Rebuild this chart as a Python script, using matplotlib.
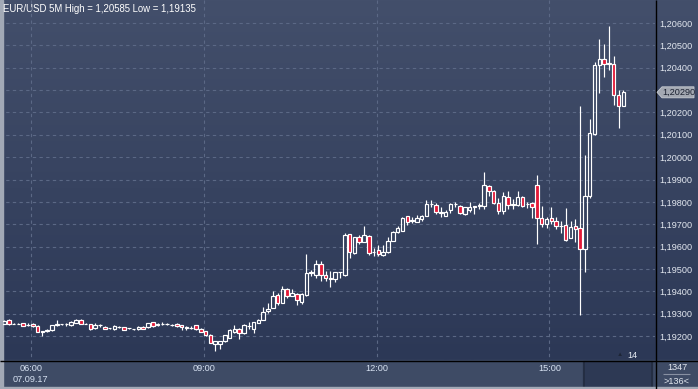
import matplotlib

matplotlib.use("Agg")
import matplotlib.pyplot as plt
import numpy as np
from matplotlib.colors import LinearSegmentedColormap
from matplotlib.patches import Polygon, Rectangle
from matplotlib.transforms import blended_transform_factory

plt.rcParams["font.family"] = ["Liberation Sans", "DejaVu Sans"]

# EUR/USD 5 minute candles, 07.09.17 (about 05:35 - 16:20)
opens = [
    1.19255, 1.19271, 1.19255, 1.19256, 1.19258, 1.19249, 1.19256, 1.19246, 1.19222, 1.19222,
    1.19225, 1.19248, 1.19252, 1.19252, 1.19249, 1.19259, 1.19272, 1.19255, 1.19254, 1.19235,
    1.19249, 1.19242, 1.19235, 1.19232, 1.19241, 1.19240, 1.19235, 1.19231, 1.19230, 1.19242,
    1.19240, 1.19263, 1.19250, 1.19254, 1.19254, 1.19251, 1.19254, 1.19249, 1.19241, 1.19237,
    1.19248, 1.19232, 1.19222, 1.19205, 1.19163, 1.19165, 1.19180, 1.19193, 1.19218, 1.19233,
    1.19212, 1.19244, 1.19233, 1.19260, 1.19272, 1.19313, 1.19326, 1.19383, 1.19349, 1.19411,
    1.19381, 1.19389, 1.19352, 1.19383, 1.19484, 1.19471, 1.19522, 1.19473, 1.19459, 1.19457,
    1.19485, 1.19474, 1.19655, 1.19571, 1.19642, 1.19622, 1.19648, 1.19574, 1.19584, 1.19562,
    1.19575, 1.19627, 1.19664, 1.19671, 1.19735, 1.19716, 1.19711, 1.19723, 1.19738, 1.19789,
    1.19787, 1.19751, 1.19738, 1.19762, 1.19790, 1.19780, 1.19746, 1.19762, 1.19781, 1.19780,
    1.19782, 1.19871, 1.19849, 1.19794, 1.19761, 1.19823, 1.19788, 1.19786, 1.19820, 1.19790,
    1.19793, 1.19875, 1.19728, 1.19703, 1.19727, 1.19713, 1.19690, 1.19695, 1.19640, 1.19691,
    1.19682, 1.19588, 1.19828, 1.20103, 1.20411, 1.20441, 1.20418, 1.20418, 1.20280, 1.20231,
]
highs = [
    1.19272, 1.19276, 1.19258, 1.19257, 1.19260, 1.19258, 1.19258, 1.19248, 1.19224, 1.19232,
    1.19251, 1.19271, 1.19255, 1.19260, 1.19266, 1.19274, 1.19274, 1.19257, 1.19256, 1.19258,
    1.19256, 1.19245, 1.19238, 1.19248, 1.19243, 1.19242, 1.19238, 1.19233, 1.19243, 1.19245,
    1.19260, 1.19265, 1.19260, 1.19263, 1.19257, 1.19256, 1.19258, 1.19251, 1.19244, 1.19246,
    1.19250, 1.19234, 1.19224, 1.19207, 1.19180, 1.19180, 1.19206, 1.19230, 1.19248, 1.19236,
    1.19252, 1.19263, 1.19265, 1.19275, 1.19331, 1.19349, 1.19403, 1.19393, 1.19426, 1.19413,
    1.19411, 1.19391, 1.19392, 1.19568, 1.19497, 1.19541, 1.19534, 1.19492, 1.19492, 1.19488,
    1.19488, 1.19659, 1.19658, 1.19645, 1.19652, 1.19692, 1.19650, 1.19593, 1.19605, 1.19606,
    1.19642, 1.19670, 1.19693, 1.19733, 1.19738, 1.19733, 1.19741, 1.19742, 1.19810, 1.19810,
    1.19796, 1.19776, 1.19763, 1.19797, 1.19801, 1.19786, 1.19779, 1.19800, 1.19783, 1.19793,
    1.19932, 1.19874, 1.19852, 1.19816, 1.19843, 1.19847, 1.19811, 1.19847, 1.19826, 1.19801,
    1.19801, 1.19920, 1.19782, 1.19734, 1.19779, 1.19731, 1.19713, 1.19771, 1.19713, 1.19725,
    1.20228, 1.20009, 1.20170, 1.20426, 1.20530, 1.20505, 1.20585, 1.20451, 1.20302, 1.20302,
]
lows = [
    1.19253, 1.19250, 1.19252, 1.19252, 1.19243, 1.19244, 1.19240, 1.19218, 1.19200, 1.19218,
    1.19223, 1.19246, 1.19250, 1.19246, 1.19247, 1.19257, 1.19254, 1.19252, 1.19229, 1.19232,
    1.19240, 1.19230, 1.19233, 1.19228, 1.19238, 1.19226, 1.19232, 1.19228, 1.19228, 1.19230,
    1.19236, 1.19241, 1.19245, 1.19249, 1.19250, 1.19244, 1.19242, 1.19228, 1.19228, 1.19230,
    1.19228, 1.19218, 1.19200, 1.19168, 1.19135, 1.19140, 1.19172, 1.19190, 1.19215, 1.19186,
    1.19210, 1.19230, 1.19215, 1.19258, 1.19270, 1.19304, 1.19324, 1.19341, 1.19347, 1.19371,
    1.19379, 1.19337, 1.19344, 1.19381, 1.19467, 1.19460, 1.19445, 1.19445, 1.19418, 1.19440,
    1.19460, 1.19470, 1.19551, 1.19568, 1.19612, 1.19620, 1.19563, 1.19560, 1.19560, 1.19560,
    1.19573, 1.19625, 1.19662, 1.19668, 1.19696, 1.19704, 1.19709, 1.19716, 1.19736, 1.19778,
    1.19748, 1.19733, 1.19735, 1.19749, 1.19779, 1.19744, 1.19743, 1.19753, 1.19744, 1.19768,
    1.19767, 1.19828, 1.19790, 1.19746, 1.19746, 1.19770, 1.19770, 1.19783, 1.19779, 1.19771,
    1.19730, 1.19612, 1.19689, 1.19683, 1.19701, 1.19680, 1.19663, 1.19627, 1.19637, 1.19622,
    1.19294, 1.19488, 1.19816, 1.20100, 1.20288, 1.20359, 1.20389, 1.20235, 1.20131, 1.20229,
]
closes = [
    1.19269, 1.19255, 1.19256, 1.19254, 1.19246, 1.19251, 1.19245, 1.19220, 1.19220, 1.19226,
    1.19249, 1.19254, 1.19253, 1.19254, 1.19261, 1.19272, 1.19256, 1.19254, 1.19231, 1.19251,
    1.19250, 1.19232, 1.19236, 1.19246, 1.19240, 1.19228, 1.19236, 1.19230, 1.19240, 1.19233,
    1.19258, 1.19243, 1.19252, 1.19255, 1.19253, 1.19250, 1.19245, 1.19240, 1.19236, 1.19238,
    1.19230, 1.19220, 1.19203, 1.19171, 1.19177, 1.19178, 1.19203, 1.19226, 1.19233, 1.19212,
    1.19248, 1.19246, 1.19263, 1.19273, 1.19307, 1.19322, 1.19381, 1.19349, 1.19411, 1.19381,
    1.19393, 1.19360, 1.19390, 1.19482, 1.19486, 1.19522, 1.19471, 1.19460, 1.19457, 1.19486,
    1.19486, 1.19652, 1.19575, 1.19642, 1.19622, 1.19652, 1.19571, 1.19576, 1.19566, 1.19577,
    1.19625, 1.19664, 1.19682, 1.19730, 1.19711, 1.19718, 1.19730, 1.19739, 1.19790, 1.19791,
    1.19753, 1.19754, 1.19756, 1.19791, 1.19792, 1.19749, 1.19776, 1.19777, 1.19779, 1.19784,
    1.19875, 1.19850, 1.19794, 1.19761, 1.19826, 1.19786, 1.19790, 1.19823, 1.19783, 1.19792,
    1.19776, 1.19730, 1.19703, 1.19724, 1.19713, 1.19694, 1.19692, 1.19630, 1.19689, 1.19680,
    1.19588, 1.19828, 1.20106, 1.20410, 1.20441, 1.20418, 1.20419, 1.20280, 1.20231, 1.20290,
]

price_levels = [1.192, 1.193, 1.194, 1.195, 1.196, 1.197, 1.198, 1.199,
                1.200, 1.201, 1.202, 1.203, 1.204, 1.205, 1.206]
time_ticks = [5.6, 41.6, 77.6, 113.6]
time_labels = ["06:00\n07.09.17", "09:00", "12:00", "15:00"]
title = "EUR/USD 5M High = 1,20585 Low = 1,19135"

W, H = 698, 389
RED = "#e31937"
LABEL = "#e2e7ef"


def fmt(p):
    return f"{p:.5f}".replace(".", ",")


fig = plt.figure(figsize=(W / 100, H / 100), dpi=100)

# background in pixel coordinates
bg = fig.add_axes([0, 0, 1, 1], zorder=0)
bg.set_xlim(0, W)
bg.set_ylim(H, 0)
bg.axis("off")
cmap = LinearSegmentedColormap.from_list("bg", ["#434f6b", "#2c3856"])
bg.imshow(np.linspace(0, 1, 256).reshape(-1, 1), cmap=cmap, aspect="auto",
          extent=(0, W, 360, 0), zorder=0)
bg.add_patch(Rectangle((0, 360), W, 29, color="#3e4b65", zorder=1))
bg.add_patch(Rectangle((583, 361), 69, 28, color="#2d3954", zorder=2))
bg.vlines([583.5, 651.5], 361, 389, color="#232c40", lw=1.2, zorder=3)
bg.add_patch(Rectangle((0, 0), 2.5, H, color="#a2a9b6", zorder=4))
bg.add_patch(Rectangle((0, 387), W, 2, color="#a2a9b6", zorder=4))
bg.hlines(360.5, 0, W, color="black", lw=1.0, zorder=5)
bg.vlines(655.5, 0, H, color="black", lw=1.0, zorder=5)

bg.text(3, 9, title, color="white", fontsize=6.9, va="center", ha="left", zorder=6)
bg.text(620, 355, "\u25b2", color="#1d2536", fontsize=4.5, ha="center", va="center", zorder=6)
bg.text(632, 355, "14", color="#e8edf4", fontsize=6.6, ha="center", va="center", zorder=6)
bg.text(677, 367, "1347", color=LABEL, fontsize=6.6, ha="center", va="center", zorder=6)
bg.hlines(374, 663, 690, color="#8790a2", lw=0.8, zorder=6)
bg.text(677, 381, ">136<", color=LABEL, fontsize=6.6, ha="center", va="center", zorder=6)

# price axes
ax = fig.add_axes([3 / W, 29 / H, 652 / W, 360 / H], zorder=1)
ax.patch.set_alpha(0)
for s in ax.spines.values():
    s.set_visible(False)
ax.set_xlim(-0.21, 135.6)
ax.set_ylim(1.206 - 337 / 22360, 1.206 + 23 / 22360)

ax.hlines(price_levels, -1, 140, colors="#5b6885", lw=0.8, linestyles=(0, (3, 3)), zorder=1)
ax.vlines(time_ticks, 1.18, 1.21, colors="#5b6885", lw=0.8, linestyles=(0, (3, 3)), zorder=1)

bw = 0.74
for k, (o, h, l, c) in enumerate(zip(opens, highs, lows, closes)):
    top, bot = max(o, c), min(o, c)
    ax.vlines(k, top, h, color="white", lw=0.85, zorder=2)
    ax.vlines(k, l, bot, color="white", lw=0.85, zorder=2)
    face = RED if c < o else "none"
    ax.add_patch(Rectangle((k - bw / 2, bot), bw, max(top - bot, 1e-7),
                           facecolor=face, edgecolor="white", lw=0.85, zorder=3))

# the last price tag takes the place of the nearest level label
last = closes[-1]
label_levels = [p for p in price_levels if abs(p - last) > 0.0003]
ax.yaxis.tick_right()
ax.set_yticks(label_levels)
ax.set_yticklabels([fmt(p) for p in label_levels])
ax.set_xticks(time_ticks)
ax.set_xticklabels(time_labels, linespacing=1.3)
ax.tick_params(axis="y", length=0, pad=3, labelsize=6.6, labelcolor=LABEL)
ax.tick_params(axis="x", length=0, pad=3, labelsize=6.6, labelcolor="#d7e2f2")

tr = blended_transform_factory(ax.transAxes, ax.transData)
dy = 5.5 / 22360
x0, x1 = 1 + 2 / 652, 1 + 39 / 652
tag = Polygon([(x0, last), (x0 + 5 / 652, last + dy), (x1, last + dy),
               (x1, last - dy), (x0 + 5 / 652, last - dy)], closed=True,
              transform=tr, facecolor="#a3a8b2", edgecolor="#c8ccd3", lw=0.6,
              clip_on=False, zorder=5)
ax.add_patch(tag)
ax.text(x0 + 5 / 652, last, fmt(last), transform=tr, color="#1a2030", fontsize=6.6,
        va="center", ha="left", clip_on=False, zorder=6)

fig.savefig("out.png", dpi=100)
